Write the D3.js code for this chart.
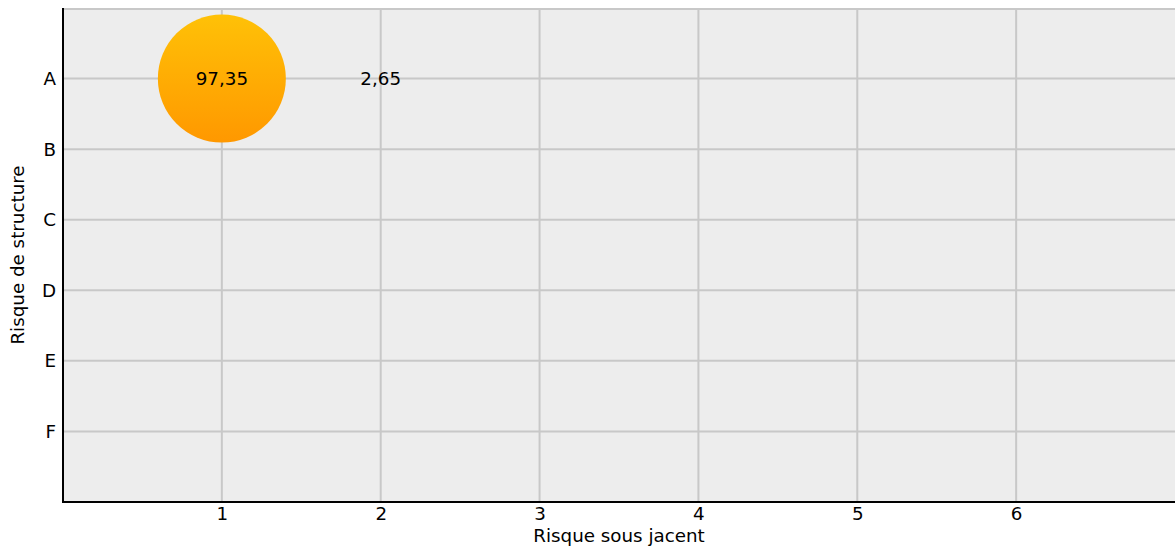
<!DOCTYPE html>
<html>
<head>
<meta charset="utf-8">
<script src="https://cdn.jsdelivr.net/npm/d3@7"></script>
<style>
  body { margin: 0; background: #fff; }
  text { font-family: "DejaVu Sans", sans-serif; }
</style>
</head>
<body>
<svg id="chart" width="1175" height="556"></svg>
<script>
// data
const xTicks = [1, 2, 3, 4, 5, 6];
const yCategories = ["A", "B", "C", "D", "E", "F"];
const bubbleX = [1, 2];
const bubbleY = ["A", "A"];
const bubbleValues = [97.35, 2.65];

const margin = {top: 8, right: 0, bottom: 54, left: 63};
const width = 1175 - margin.left - margin.right;
const height = 556 - margin.top - margin.bottom;
const fs = 18.3;

const svg = d3.select("#chart");
const g = svg.append("g")
    .attr("transform", "translate(" + margin.left + "," + margin.top + ")");

const defs = svg.append("defs");
const grad = defs.append("linearGradient")
    .attr("id", "bubbleGrad")
    .attr("x1", 0).attr("y1", 0).attr("x2", 0).attr("y2", 1);
grad.append("stop").attr("offset", "0%").attr("stop-color", "#ffc107");
grad.append("stop").attr("offset", "100%").attr("stop-color", "#ff9800");

const x = d3.scaleLinear().domain([0, 7]).range([0, width]);
const y = d3.scaleLinear().domain([0, 7]).range([0, height]);
const yIndex = c => yCategories.indexOf(c) + 1;

// background
g.append("rect")
    .attr("width", width)
    .attr("height", height)
    .attr("fill", "#ededed");

// grid
g.selectAll(".vgrid")
    .data(xTicks)
    .enter().append("line")
    .attr("x1", d => x(d)).attr("x2", d => x(d))
    .attr("y1", 0).attr("y2", height)
    .attr("stroke", "#c8c8c8").attr("stroke-width", 2);

g.selectAll(".hgrid")
    .data(yCategories)
    .enter().append("line")
    .attr("x1", 0).attr("x2", width)
    .attr("y1", d => y(yIndex(d))).attr("y2", d => y(yIndex(d)))
    .attr("stroke", "#c8c8c8").attr("stroke-width", 2);

g.append("line")
    .attr("x1", 0).attr("x2", width)
    .attr("y1", 1).attr("y2", 1)
    .attr("stroke", "#c8c8c8").attr("stroke-width", 2);

// axes
const xAxis = g.append("g")
    .attr("transform", "translate(0," + height + ")")
    .call(d3.axisBottom(x).tickValues(xTicks).tickFormat(d3.format("d"))
        .tickSize(0).tickPadding(5));
const yAxis = g.append("g")
    .call(d3.axisLeft(y).tickValues(yCategories.map(yIndex))
        .tickFormat(d => yCategories[d - 1]).tickSize(0).tickPadding(7));

[xAxis, yAxis].forEach(a => {
    a.select(".domain").attr("stroke", "#000").attr("stroke-width", 2);
    a.selectAll("text").attr("font-size", fs).attr("fill", "#000")
        .attr("font-family", "DejaVu Sans, sans-serif");
});
yAxis.select(".domain").attr("d", "M0," + height + "V0");
xAxis.select(".domain").attr("d", "M-1,0H" + width);

// bubbles
const r = d3.scaleLinear()
    .domain([d3.min(bubbleValues), d3.max(bubbleValues)])
    .range([0, 64]);

const points = bubbleValues.map((v, i) => ({x: bubbleX[i], y: bubbleY[i], v: v}));

g.selectAll(".bubble")
    .data(points)
    .enter().append("circle")
    .attr("cx", d => x(d.x))
    .attr("cy", d => y(yIndex(d.y)))
    .attr("r", d => r(d.v))
    .attr("fill", "url(#bubbleGrad)");

g.selectAll(".blabel")
    .data(points)
    .enter().append("text")
    .attr("x", d => x(d.x))
    .attr("y", d => y(yIndex(d.y)))
    .attr("dy", "0.35em")
    .attr("text-anchor", "middle")
    .attr("font-size", fs)
    .text(d => d3.format(".2f")(d.v).replace(".", ","));

// axis titles
svg.append("text")
    .attr("x", margin.left + width / 2)
    .attr("y", 542)
    .attr("text-anchor", "middle")
    .attr("font-size", fs)
    .text("Risque sous jacent");

svg.append("text")
    .attr("transform", "translate(24," + 255 + ") rotate(-90)")
    .attr("text-anchor", "middle")
    .attr("font-size", fs)
    .text("Risque de structure");
</script>
</body>
</html>
